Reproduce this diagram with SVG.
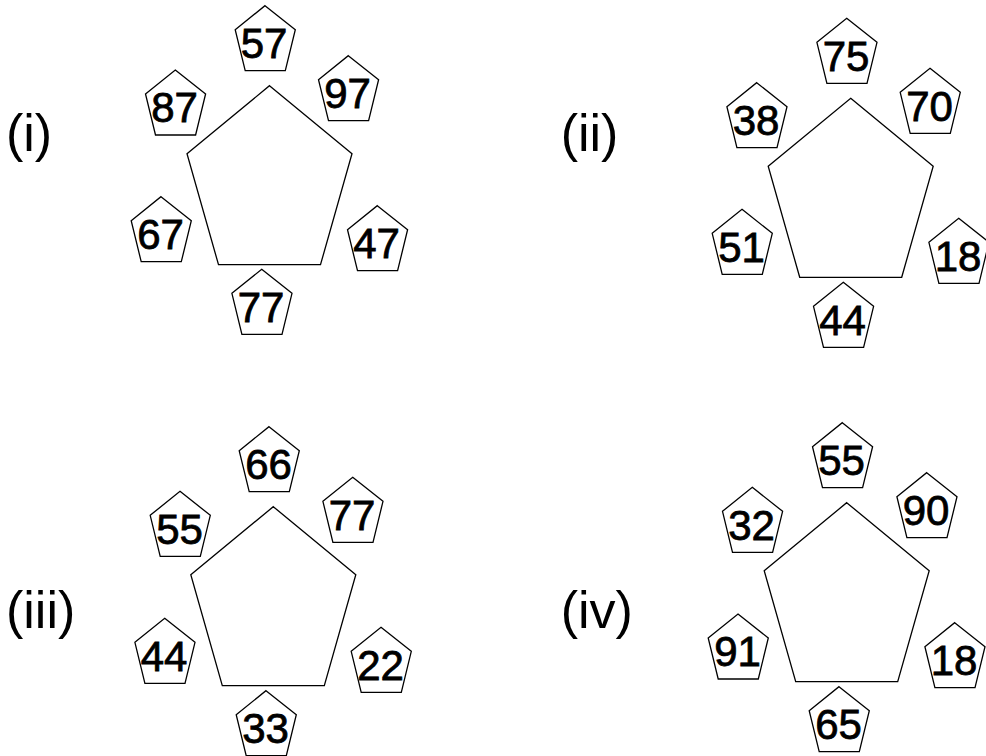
<svg xmlns="http://www.w3.org/2000/svg" xmlns:xlink="http://www.w3.org/1999/xlink" width="986" height="756" viewBox="0 0 986 756">
<style>
.shape{fill:#fff;stroke:#000;stroke-width:1.3}
.num{font-family:"Liberation Sans",Arial,sans-serif;font-size:42px;text-anchor:middle;fill:#000;stroke:#000;stroke-width:0.8}
.lbl{font-family:"Liberation Sans",Arial,sans-serif;font-size:52px;fill:#000}
</style>
<defs>
<polygon id="sp" class="shape" points="0,0 30.3,24 20.3,65 -19.8,65 -29.8,24"/>
<polygon id="bp" class="shape" points="0,0 82.5,68 51,179 -51,179 -82.5,68"/>
</defs>
<rect width="986" height="756" fill="#fff"/>

<g id="diagram-i">
<text class="lbl" x="6" y="151">(i)</text>
<g id="i-big"><use xlink:href="#bp" x="269.5" y="85.7"/></g>
<g id="i-57"><use xlink:href="#sp" x="265" y="5.7"/><text class="num" x="264" y="58">57</text></g>
<g id="i-97"><use xlink:href="#sp" x="348.3" y="55.7"/><text class="num" x="347.5" y="108">97</text></g>
<g id="i-87"><use xlink:href="#sp" x="175.3" y="70"/><text class="num" x="174.5" y="122">87</text></g>
<g id="i-67"><use xlink:href="#sp" x="161" y="196.7"/><text class="num" x="160.5" y="249">67</text></g>
<g id="i-47"><use xlink:href="#sp" x="377.3" y="205.7"/><text class="num" x="376.5" y="258">47</text></g>
<g id="i-77"><use xlink:href="#sp" x="261.7" y="269.3"/><text class="num" x="261" y="321.5">77</text></g>
</g>

<g id="diagram-ii">
<text class="lbl" x="560.7" y="151">(ii)</text>
<g id="ii-big"><use xlink:href="#bp" x="850.7" y="98.3"/></g>
<g id="ii-75"><use xlink:href="#sp" x="846.7" y="18.3"/><text class="num" x="846" y="70.5">75</text></g>
<g id="ii-70"><use xlink:href="#sp" x="930" y="68.3"/><text class="num" x="929.5" y="120.5">70</text></g>
<g id="ii-38"><use xlink:href="#sp" x="756.7" y="82.7"/><text class="num" x="756" y="135">38</text></g>
<g id="ii-51"><use xlink:href="#sp" x="742" y="209.3"/><text class="num" x="741.5" y="261.5">51</text></g>
<g id="ii-18"><use xlink:href="#sp" x="958.7" y="218.3"/><text class="num" x="958" y="270.5">18</text></g>
<g id="ii-44"><use xlink:href="#sp" x="843.3" y="282.3"/><text class="num" x="842.5" y="334.5">44</text></g>
</g>

<g id="diagram-iii">
<text class="lbl" x="6" y="628">(iii)</text>
<g id="iii-big"><use xlink:href="#bp" x="273.3" y="506.7"/></g>
<g id="iii-66"><use xlink:href="#sp" x="269" y="426.7"/><text class="num" x="268.5" y="479">66</text></g>
<g id="iii-77"><use xlink:href="#sp" x="352.7" y="477.3"/><text class="num" x="352" y="529.5">77</text></g>
<g id="iii-55"><use xlink:href="#sp" x="180" y="491.3"/><text class="num" x="179.5" y="543.5">55</text></g>
<g id="iii-44"><use xlink:href="#sp" x="164.7" y="618.3"/><text class="num" x="164" y="670.5">44</text></g>
<g id="iii-22"><use xlink:href="#sp" x="381" y="627.3"/><text class="num" x="380.5" y="679.5">22</text></g>
<g id="iii-33"><use xlink:href="#sp" x="266" y="690.7"/><text class="num" x="265.5" y="743">33</text></g>
</g>

<g id="diagram-iv">
<text class="lbl" x="560.7" y="628">(iv)</text>
<g id="iv-big"><use xlink:href="#bp" x="846.7" y="502.7"/></g>
<g id="iv-55"><use xlink:href="#sp" x="842.3" y="422.7"/><text class="num" x="841.5" y="475">55</text></g>
<g id="iv-90"><use xlink:href="#sp" x="926.7" y="472.7"/><text class="num" x="926" y="525">90</text></g>
<g id="iv-32"><use xlink:href="#sp" x="752.3" y="487.3"/><text class="num" x="751.5" y="539.5">32</text></g>
<g id="iv-91"><use xlink:href="#sp" x="738" y="614"/><text class="num" x="737.5" y="666">91</text></g>
<g id="iv-18"><use xlink:href="#sp" x="954.7" y="622.7"/><text class="num" x="954" y="675">18</text></g>
<g id="iv-65"><use xlink:href="#sp" x="839" y="686.7"/><text class="num" x="838.5" y="739">65</text></g>
</g>
</svg>
